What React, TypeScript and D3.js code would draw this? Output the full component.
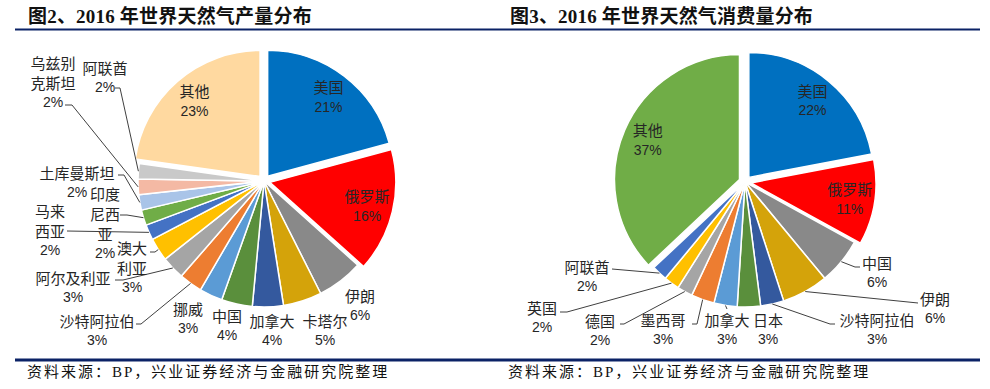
import * as d3 from 'd3';

// ── Données ──────────────────────────────────────────────
const prodNames = ['美国', '俄罗斯', '伊朗', '卡塔尔', '加拿大', '中国', '挪威', '沙特阿拉伯', '阿尔及利亚', '澳大利亚', '马来西亚', '印度尼西亚', '土库曼斯坦', '乌兹别克斯坦', '阿联酋', '其他'];
const prodValues = [21, 16, 6, 5, 4, 4, 3, 3, 3, 3, 2, 2, 2, 2, 2, 23];
const prodColors = ['#0070C0', '#FF0000', '#898989', '#D4A30A', '#34599E', '#5A8F3C', '#5B9BD5', '#ED7D31', '#A5A5A5', '#FFC000', '#4472C4', '#70AD47', '#A9C4E8', '#F4B9A4', '#C9C9C9', '#FFD9A0'];

const consNames = ['美国', '俄罗斯', '中国', '伊朗', '沙特阿拉伯', '日本', '加拿大', '墨西哥', '德国', '英国', '阿联酋', '其他'];
const consValues = [22, 11, 6, 6, 3, 3, 3, 3, 2, 2, 2, 37];
const consColors = ['#0070C0', '#FF0000', '#898989', '#D4A30A', '#34599E', '#5A8F3C', '#5B9BD5', '#ED7D31', '#A5A5A5', '#FFC000', '#4472C4', '#70AD47'];

// ── Mise en page des étiquettes ──────────────────────────
type Lbl = { inside?: boolean; wrap?: number[]; x?: number; y?: number; leader?: [number, number][] };

const prodLayout: Lbl[] = [
  { inside: true },
  { inside: true },
  { x: 360, y: 295 },
  { x: 325, y: 320 },
  { x: 272, y: 320 },
  { x: 227, y: 315 },
  { x: 188, y: 308 },
  { x: 97, y: 320, leader: [[136, 324], [141, 324]] },
  { x: 73, y: 277, leader: [[115, 280], [123, 280]] },
  { wrap: [2, 2], x: 132, y: 247, leader: [[150, 252], [155, 252]] },
  { wrap: [2, 2], x: 50, y: 210, leader: [[67, 231]] },
  { wrap: [2, 2, 1], x: 105, y: 193, leader: [[120, 215], [127, 215]] },
  { x: 77, y: 172, leader: [[118, 175], [124, 175]] },
  { wrap: [3, 3], x: 53, y: 62, leader: [[65, 105], [72, 105]] },
  { x: 105, y: 67, leader: [[115, 88], [120, 88]] },
  { inside: true },
];

const consLayout: Lbl[] = [
  { inside: true },
  { inside: true },
  { x: 877, y: 262, leader: [[860, 267], [855, 267]] },
  { x: 935, y: 298, leader: [[918, 303]] },
  { x: 877, y: 319, leader: [[835, 324], [830, 324]] },
  { x: 768, y: 319 },
  { x: 727, y: 319, leader: [[727, 309]] },
  { x: 663, y: 319, leader: [[692, 324], [697, 324]] },
  { x: 600, y: 320, leader: [[620, 324], [624, 324]] },
  { x: 542, y: 307, leader: [[560, 312], [567, 312]] },
  { x: 587, y: 266, leader: [[612, 269]] },
  { inside: true },
];

const NAVY = '#0B2266';
const TXT = '#262626';
const CJK = '"Noto Sans CJK SC", sans-serif';
const NUM = '"Liberation Sans", Arial, sans-serif';
const SERIF = '"Liberation Serif", "Noto Sans CJK SC", serif';

function splitName(name: string, wrap?: number[]) {
  if (!wrap) return [name];
  const out: string[] = [];
  let i = 0;
  for (const n of wrap) { out.push(name.slice(i, i + n)); i += n; }
  return out;
}

function Pie({ cx, cy, r, names, values, colors, layout }: {
  cx: number; cy: number; r: number; names: string[]; values: number[]; colors: string[]; layout: Lbl[];
}) {
  const explode = 6;
  const arcs = d3.pie<number>().sort(null).value(d => d)(values);
  const arc = d3.arc<d3.PieArcDatum<number>>().innerRadius(0).outerRadius(r);

  return (
    <g>
      {arcs.map((a, i) => {
        const mid = (a.startAngle + a.endAngle) / 2;
        const off = layout[i].inside ? explode : 0;
        const tx = cx + Math.sin(mid) * off;
        const ty = cy - Math.cos(mid) * off;
        return (
          <path key={names[i]} d={arc(a) || ''} transform={`translate(${tx},${ty})`}
            fill={colors[i]} stroke="#fff" strokeWidth={1.5} strokeLinejoin="round" />
        );
      })}
      {arcs.map((a, i) => {
        const L = layout[i];
        const mid = (a.startAngle + a.endAngle) / 2;
        const pct = `${values[i]}%`;
        if (L.inside) {
          const rr = 100;
          const x = cx + Math.sin(mid) * (rr + explode);
          const y = cy - Math.cos(mid) * (rr + explode);
          return (
            <g key={names[i]} fill={TXT}>
              <text x={x} y={y - 10} textAnchor="middle" dominantBaseline="central" fontFamily={CJK} fontSize={15}>{names[i]}</text>
              <text x={x} y={y + 10} textAnchor="middle" dominantBaseline="central" fontFamily={NUM} fontSize={14}>{pct}</text>
            </g>
          );
        }
        const lines = splitName(names[i], L.wrap);
        const ex = cx + Math.sin(mid) * r;
        const ey = cy - Math.cos(mid) * r;
        const pts = L.leader ? [...L.leader, [ex, ey] as [number, number]] : null;
        return (
          <g key={names[i]}>
            {pts && <polyline points={pts.map(p => p.join(',')).join(' ')} fill="none" stroke="#404040" strokeWidth={1} />}
            {lines.map((s, k) => (
              <text key={k} x={L.x} y={(L.y || 0) + k * 20} textAnchor="middle" dominantBaseline="central"
                fontFamily={CJK} fontSize={15} fill={TXT}>{s}</text>
            ))}
            <text x={L.x} y={(L.y || 0) + lines.length * 20} textAnchor="middle" dominantBaseline="central"
              fontFamily={NUM} fontSize={14} fill={TXT}>{pct}</text>
          </g>
        );
      })}
    </g>
  );
}

export default function App() {
  return (
    <svg width={990} height={389} style={{ position: 'absolute', left: 0, top: 0, background: '#fff' }}>
      <text x={28} y={23} fontFamily={SERIF} fontWeight="bold" fontSize={19} letterSpacing={0.2} fill="#111">图2、2016 年世界天然气产量分布</text>
      <text x={510} y={23} fontFamily={SERIF} fontWeight="bold" fontSize={19} letterSpacing={0.2} fill="#111">图3、2016 年世界天然气消费量分布</text>
      <rect x={15} y={28.5} width={965} height={2} fill={NAVY} />

      <Pie cx={264} cy={181} r={126} names={prodNames} values={prodValues} colors={prodColors} layout={prodLayout} />
      <Pie cx={745} cy={182} r={125} names={consNames} values={consValues} colors={consColors} layout={consLayout} />

      <rect x={15} y={358.5} width={965} height={3} fill={NAVY} />
      <text x={27} y={377} fontFamily={SERIF} fontSize={15} letterSpacing={2} fill="#111">资料来源：BP，兴业证券经济与金融研究院整理</text>
      <text x={508} y={377} fontFamily={SERIF} fontSize={15} letterSpacing={2} fill="#111">资料来源：BP，兴业证券经济与金融研究院整理</text>
    </svg>
  );
}
